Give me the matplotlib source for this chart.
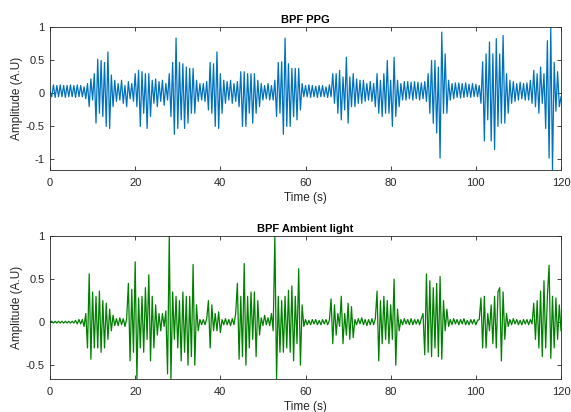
import numpy as np
import matplotlib
matplotlib.use("Agg")
import matplotlib.pyplot as plt

# sample spacing of the values (s)
dt = 0.4

# band-pass filtered PPG, one row = 4 s
ppg = [
    0.02, -0.05, 0.13, -0.06, 0.12, -0.05, 0.13, -0.05, 0.12, -0.06,
    0.12, -0.05, 0.13, -0.05, 0.12, -0.06, 0.13, -0.05, 0.12, -0.05,
    0.10, -0.08, 0.15, -0.20, 0.22, -0.10, 0.30, -0.45, 0.52, -0.30,
    0.50, -0.35, 0.47, -0.50, 0.63, -0.53, 0.28, -0.20, 0.20, -0.12,
    0.15, -0.10, 0.20, -0.15, 0.12, -0.20, 0.18, -0.08, 0.15, -0.12,
    0.30, -0.20, 0.35, -0.50, 0.33, -0.30, 0.30, -0.53, 0.30, -0.35,
    0.20, -0.15, 0.22, -0.20, 0.18, -0.12, 0.20, -0.18, 0.15, -0.10,
    0.30, -0.35, 0.47, -0.62, 0.84, -0.53, 0.47, -0.40, 0.45, -0.53,
    0.40, -0.45, 0.38, -0.30, 0.38, -0.30, 0.20, -0.12, 0.15, -0.10,
    0.15, -0.12, 0.18, -0.25, 0.47, -0.30, 0.45, -0.50, 0.63, -0.53,
    0.30, -0.30, 0.20, -0.15, 0.18, -0.10, 0.20, -0.15, 0.15, -0.12,
    0.18, -0.20, 0.33, -0.50, 0.33, -0.50, 0.30, -0.30, 0.30, -0.45,
    0.30, -0.30, 0.20, -0.20, 0.15, -0.10, 0.12, -0.08, 0.15, -0.10,
    0.12, -0.10, 0.20, -0.35, 0.47, -0.30, 0.48, -0.62, 0.84, -0.50,
    0.45, -0.50, 0.38, -0.35, 0.38, -0.40, 0.38, -0.25, 0.15, -0.05,
    0.12, -0.05, 0.13, -0.06, 0.12, -0.05, 0.11, -0.06, 0.12, -0.05,
    0.12, -0.05, 0.10, -0.06, 0.13, -0.05, 0.30, -0.15, 0.30, -0.30,
    0.35, -0.40, 0.25, -0.25, 0.55, -0.45, 0.25, -0.20, 0.30, -0.20,
    0.22, -0.15, 0.20, -0.15, 0.20, -0.12, 0.15, -0.10, 0.18, -0.12,
    0.15, -0.20, 0.30, -0.30, 0.20, -0.35, 0.30, -0.30, 0.50, -0.30,
    0.20, -0.50, 0.55, -0.35, 0.20, -0.20, 0.15, -0.10, 0.18, -0.10,
    0.18, -0.08, 0.17, -0.10, 0.18, -0.08, 0.17, -0.10, 0.16, -0.08,
    0.18, -0.12, 0.30, -0.30, 0.50, -0.45, 0.50, -0.60, 0.40, -0.98,
    0.93, -0.30, 0.60, -0.30, 0.20, -0.10, 0.15, -0.08, 0.16, -0.06,
    0.16, -0.07, 0.15, -0.06, 0.16, -0.05, 0.14, -0.06, 0.15, -0.05,
    0.14, -0.05, 0.12, -0.15, 0.48, -0.72, 0.60, -0.40, 0.78, -0.72,
    0.60, -0.85, 0.83, -0.50, 0.60, -0.45, 0.88, -0.45, 0.30, -0.30,
    0.20, -0.15, 0.18, -0.12, 0.15, -0.10, 0.17, -0.08, 0.15, -0.10,
    0.16, -0.10, 0.20, -0.15, 0.35, -0.20, 0.30, -0.30, 0.40, -0.15,
    0.30, -0.53, 0.80, -0.98, 1.00, -1.16, 0.47, -0.27, 0.33, -0.20,
    -0.05,
]

# band-pass filtered ambient light, one row = 4 s
ambient = [
    0.00, 0.01, -0.01, 0.01, -0.01, 0.01, -0.01, 0.01, -0.01, 0.01,
    -0.01, 0.01, -0.01, 0.01, -0.01, 0.02, -0.02, 0.03, -0.02, 0.03,
    -0.05, 0.10, -0.30, 0.56, -0.43, 0.35, -0.30, 0.30, -0.30, 0.36,
    -0.35, 0.25, -0.30, 0.22, -0.20, 0.15, -0.10, 0.08, -0.04, 0.04,
    -0.04, 0.05, -0.03, 0.04, -0.05, 0.04, 0.45, -0.45, 0.38, -0.35,
    0.70, -0.66, 0.28, -0.30, 0.30, -0.35, 0.40, -0.20, 0.55, -0.45,
    0.30, -0.30, 0.20, -0.15, 0.10, -0.10, 0.10, -0.05, 0.13, -0.60,
    1.00, -0.66, 0.35, -0.20, 0.30, -0.30, 0.25, -0.45, 0.35, -0.35,
    0.30, -0.50, 0.30, -0.40, 0.67, -0.50, 0.20, -0.10, 0.03, -0.03,
    0.03, -0.03, 0.04, 0.25, -0.30, 0.20, -0.10, 0.10, -0.10, 0.12,
    -0.12, 0.03, -0.03, 0.04, -0.03, 0.03, -0.04, 0.04, -0.03, 0.10,
    0.45, -0.43, 0.30, -0.40, 0.68, -0.50, 0.30, -0.30, 0.35, -0.20,
    0.35, -0.40, 0.25, -0.15, 0.05, -0.04, 0.08, -0.03, 0.05, -0.04,
    0.10, -0.10, 1.00, -0.66, 0.30, -0.35, 0.25, -0.35, 0.30, -0.30,
    0.37, -0.35, 0.42, -0.45, 0.30, -0.25, 0.62, -0.50, 0.20, -0.05,
    0.03, -0.03, 0.02, -0.03, 0.03, -0.02, 0.03, -0.03, 0.02, -0.03,
    0.03, -0.02, 0.03, -0.03, 0.02, 0.27, -0.25, 0.20, -0.15, 0.10,
    -0.05, 0.30, -0.25, 0.10, -0.15, 0.22, -0.20, 0.18, -0.18, 0.03,
    -0.03, 0.04, -0.02, 0.05, -0.03, 0.03, -0.04, 0.03, -0.03, 0.04,
    -0.03, 0.04, 0.36, -0.45, 0.25, -0.25, 0.30, -0.20, 0.25, -0.25,
    0.20, -0.20, 0.50, -0.50, 0.15, -0.10, 0.03, -0.03, 0.04, -0.02,
    0.03, -0.03, 0.04, -0.03, 0.03, -0.02, 0.03, -0.03, 0.04, 0.10,
    -0.38, 0.56, -0.35, 0.48, -0.40, 0.40, -0.30, 0.45, -0.40, 0.53,
    -0.43, 0.25, -0.10, 0.15, -0.05, 0.03, -0.03, 0.04, -0.02, 0.03,
    -0.03, 0.03, -0.02, 0.04, -0.03, 0.02, -0.03, 0.03, -0.02, 0.03,
    -0.03, 0.02, 0.03, 0.28, -0.30, 0.30, -0.30, 0.10, -0.10, 0.20,
    -0.25, 0.30, -0.30, 0.35, 0.40, -0.45, 0.35, -0.20, 0.10, -0.05,
    0.03, -0.03, 0.04, -0.02, 0.03, -0.03, 0.02, -0.03, 0.03, -0.02,
    0.03, -0.03, 0.03, -0.02, 0.22, -0.20, 0.25, -0.30, 0.36, -0.40,
    0.48, -0.30, 0.30, 0.66, -0.42, 0.30, -0.30, 0.28, -0.20, 0.20,
    -0.10,
]

titles = ["BPF PPG", "BPF Ambient light"]
x_ticks = [0, 20, 40, 60, 80, 100, 120]
y_ticks = [[-1, -0.5, 0, 0.5, 1], [-0.5, 0, 0.5, 1]]

plt.rcParams['font.family'] = ['Liberation Sans', 'DejaVu Sans']
plt.rcParams['font.size'] = 8

axis_grey = (0.15, 0.15, 0.15)

fig = plt.figure(figsize=(5.71, 4.12), dpi=100)
ax1 = fig.add_axes([0.0876, 0.5874, 0.8949, 0.3459])
ax2 = fig.add_axes([0.0876, 0.0801, 0.8949, 0.3471])

for ax, y, col, title, yt in zip([ax1, ax2], [ppg, ambient],
                                 ['#0072BD', '#008000'], titles, y_ticks):
    y = np.array(y)
    t = np.arange(len(y)) * dt
    ax.plot(t, y, color=col, linewidth=0.9)
    ax.set_xlim(0, 120)
    ax.set_ylim(y.min(), y.max())
    ax.set_xticks(x_ticks)
    ax.set_yticks(yt)
    ax.set_yticklabels([f"{v:g}" for v in yt])
    ax.set_title(title, fontweight='bold', fontsize=8, pad=3, color='black')
    ax.set_xlabel("Time (s)", fontsize=8.5, color=axis_grey, labelpad=3)
    ax.set_ylabel("Amplitude (A.U)", fontsize=8.5, color=axis_grey, labelpad=2)
    ax.tick_params(direction='in', top=True, right=True, length=3,
                   width=0.6, colors=axis_grey, labelsize=8)
    ax.tick_params(axis='x', pad=6)
    ax.tick_params(axis='y', pad=4)
    for s in ax.spines.values():
        s.set_linewidth(0.6)
        s.set_color(axis_grey)

fig.savefig("out.png", dpi=100)
